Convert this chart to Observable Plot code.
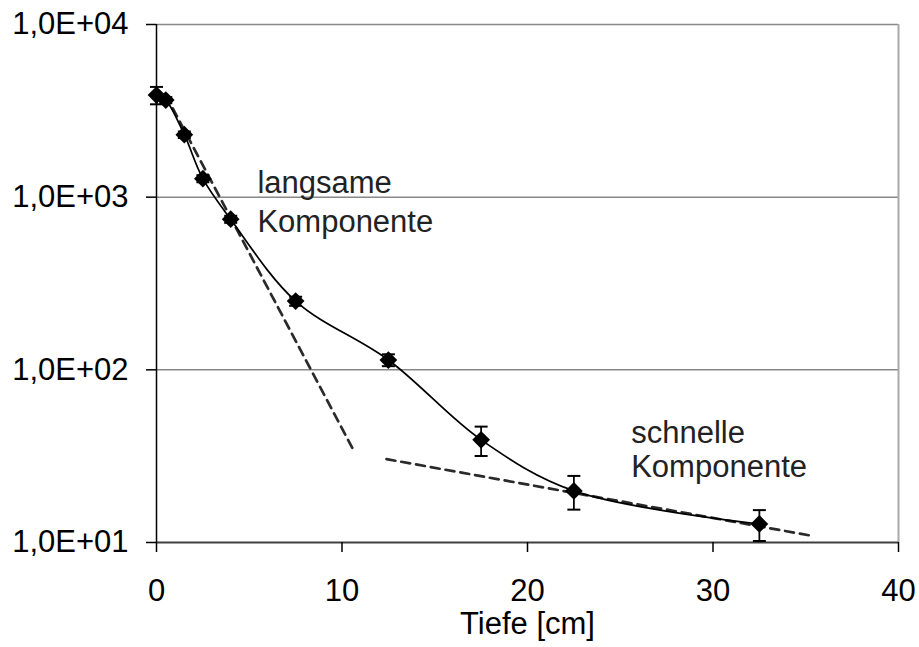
<!DOCTYPE html>
<html>
<head>
<meta charset="utf-8">
<script src="https://cdn.jsdelivr.net/npm/d3@7"></script>
<script src="https://cdn.jsdelivr.net/npm/@observablehq/plot@0.6"></script>
<style>
  html, body { margin: 0; padding: 0; background: #fff; }
</style>
</head>
<body>
<div id="chart"></div>
<script>
// Measured depth profile (depth in cm, count rate with uncertainty)
const depth = [0, 0.5, 1.5, 2.5, 4, 7.5, 12.5, 17.5, 22.5, 32.5];
const counts = [3900, 3650, 2300, 1280, 745, 250, 114, 39.3, 19.9, 12.8];
const countErr = [450, 150, 100, 60, 35, 15, 9, 7.6, 4.4, 2.6];

// Exponential fits of the two components (straight lines on the log axis)
const steepFitDepth = [0.5, 10.7];
const steepFitCounts = [3900, 33];
const flatFitDepth = [12.4, 35.4];
const flatFitCounts = [30.4, 10.9];

// Axis ticks and labels
const xTicks = [0, 10, 20, 30, 40];
const yTicks = [10, 100, 1000, 10000];
const yTickLabels = ["1,0E+01", "1,0E+02", "1,0E+03", "1,0E+04"];
const xLabel = "Tiefe [cm]";
const slowLabel = "langsame\nKomponente";
const fastLabel = "schnelle\nKomponente";

const points = depth.map((x, i) => ({
  x, y: counts[i], lo: counts[i] - countErr[i], hi: counts[i] + countErr[i]
}));
const steepFit = steepFitDepth.map((x, i) => ({x, y: steepFitCounts[i]}));
const flatFit = flatFitDepth.map((x, i) => ({x, y: flatFitCounts[i]}));

// Horizontal cap for the error bars
const cap = {
  draw(context) {
    context.moveTo(-6.5, 0);
    context.lineTo(6.5, 0);
  }
};

const font = "'Liberation Sans', Arial, sans-serif";

const chart = Plot.plot({
  width: 919,
  height: 647,
  marginLeft: 156,
  marginRight: 21,
  marginTop: 24,
  marginBottom: 105,
  style: {fontFamily: font, fontSize: "31px", color: "#000", background: "#fff"},
  x: {domain: [0, 40]},
  y: {type: "log", domain: [10, 10000]},
  marks: [
    // grid and frame
    Plot.ruleY(yTicks.slice(1), {stroke: "#888", strokeWidth: 1.5}),
    Plot.ruleX([40], {stroke: "#aaa", strokeWidth: 2}),
    Plot.ruleY([10], {stroke: "#404040", strokeWidth: 2}),
    Plot.axisY({
      ticks: yTicks,
      tickFormat: d => yTickLabels[yTicks.indexOf(d)],
      tickSize: 10,
      tickPadding: 18,
      fontSize: 31,
      stroke: "#000",
      strokeWidth: 1.5,
      label: null
    }),
    Plot.ruleX([0], {stroke: "#000", strokeWidth: 1.5}),
    Plot.axisX({
      ticks: xTicks,
      tickSize: 10,
      tickPadding: 26,
      fontSize: 31,
      stroke: "#000",
      strokeWidth: 1.5,
      label: null
    }),
    Plot.text([xLabel], {
      frameAnchor: "bottom",
      dy: 82,
      lineAnchor: "middle",
      fontSize: 31,
      fill: "#000"
    }),
    // fitted components
    Plot.line(steepFit, {x: "x", y: "y", stroke: "#2a2a2a", strokeWidth: 2.7, strokeDasharray: "9,6"}),
    Plot.line(flatFit, {x: "x", y: "y", stroke: "#2a2a2a", strokeWidth: 2.7, strokeDasharray: "9,6"}),
    // smoothed measurement curve
    Plot.line(points, {x: "x", y: "y", curve: "catmull-rom", stroke: "#000", strokeWidth: 1.7}),
    // error bars
    Plot.ruleX(points, {x: "x", y1: "lo", y2: "hi", stroke: "#000", strokeWidth: 1.8}),
    Plot.dot(points, {x: "x", y: "lo", symbol: cap, fill: "none", stroke: "#000", strokeWidth: 2}),
    Plot.dot(points, {x: "x", y: "hi", symbol: cap, fill: "none", stroke: "#000", strokeWidth: 2}),
    // measurements
    Plot.dot(points, {x: "x", y: "y", symbol: "diamond2", r: 8, fill: "#000", stroke: "none"}),
    // component annotations
    Plot.text([slowLabel], {
      x: 5.44, y: 1526, text: d => d,
      textAnchor: "start", lineAnchor: "top", lineHeight: 1.26,
      fontSize: 31, fill: "#222"
    }),
    Plot.text([fastLabel], {
      x: 25.59, y: 52.6, text: d => d,
      textAnchor: "start", lineAnchor: "top", lineHeight: 1.12,
      fontSize: 31, fill: "#222"
    })
  ]
});

document.getElementById("chart").append(chart);
</script>
</body>
</html>
